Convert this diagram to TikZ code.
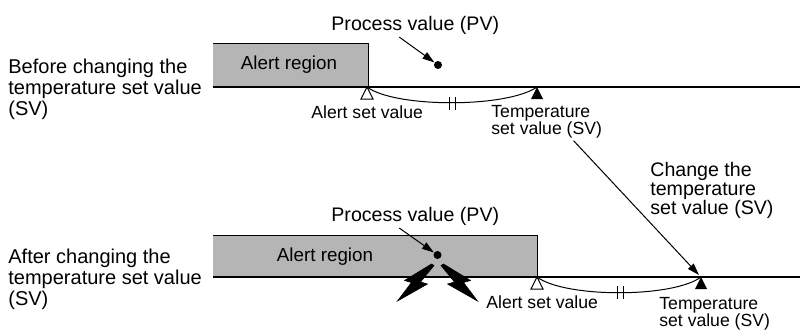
\documentclass[tikz,border=0pt]{standalone}
\usepackage{fontspec}
\setmainfont{Liberation Sans}
\usetikzlibrary{arrows.meta}

\tikzset{
  side/.style={font=\fontsize{10}{9.3}\selectfont, inner sep=0pt, align=left, anchor=north west},
  lbl/.style={font=\fontsize{8.8}{8.6}\selectfont, inner sep=0pt, align=left, anchor=north west},
  biglbl/.style={lbl, font=\fontsize{9.8}{9.5}\selectfont},
  region/.style={fill=gray!58},
  pvdot/.style={circle, fill, inner sep=0pt, minimum size=4pt},
  ptr/.style={-{Triangle[length=6pt,width=3.8pt]}, line width=0.5pt},
  bolt/.style={fill=black, draw=black, line width=0.3pt, line join=miter}
}

\begin{document}
\begin{tikzpicture}[x=0.5pt, y=-0.5pt]
    \useasboundingbox (0,0) rectangle (800,332);

    % Before changing the SV
    \fill[region] (213,43) rectangle (368,87);
    \draw[line width=0.4pt] (213,43) -- (368,43) -- (368,87);
    \node[font=\fontsize{9.4}{10}\selectfont] (ar1) at (289,65) {Alert region};
    \draw[line width=0.75pt] (213,87) -- (800,87);
    \coordinate (asv1) at (367,87);
    \coordinate (tsv1) at (537,87);
    \draw[line width=0.5pt] (asv1) .. controls (395,108) and (507,108) .. (tsv1);
    \draw[line width=0.5pt] (449,97) -- (449,110) (455,97) -- (455,110);
    \draw[fill=white, line width=0.5pt] (asv1) -- ++(-6,12) -- ++(12,0) -- cycle;
    \fill (tsv1) -- ++(-6,12) -- ++(12,0) -- cycle;
    \node[pvdot] (pv1) at (438,65) {};

    % Labels for before
    \node[side] (bef) at (8,59) {Before changing the\\temperature set value\\(SV)};
    \node[biglbl] (pvl1) at (331,16) {Process value (PV)};
    \node[lbl] (asl1) at (311,105) {Alert set value};
    \node[lbl] (tsl1) at (491,105) {Temperature\\set value (SV)};
    \draw[ptr] ([xshift=-8pt,yshift=-1pt]pvl1.south) -- (pv1);

    % After changing the SV
    \fill[region] (213,235) rectangle (537,277);
    \draw[line width=0.4pt] (213,235) -- (537,235) -- (537,277);
    \node[font=\fontsize{9.4}{10}\selectfont] (ar2) at (325,257) {Alert region};
    \draw[line width=0.75pt] (213,277) -- (800,277);
    \coordinate (asv2) at (537,277);
    \coordinate (tsv2) at (701,277);
    \draw[line width=0.5pt] (asv2) .. controls (565,298) and (673,298) .. (tsv2);
    \draw[line width=0.5pt] (617,286) -- (617,299) (623,286) -- (623,299);
    \draw[fill=white, line width=0.5pt] (asv2) -- ++(-6,12) -- ++(12,0) -- cycle;
    \fill (tsv2) -- ++(-6,12) -- ++(12,0) -- cycle;
    \node[pvdot] (pv2) at (437.5,255) {};

    % Lightning bolts under the PV
    \foreach \s in {1,-1}
      \draw[bolt, shift={(pv2)}, xscale=\s]
        (-6,9) -- (-3.5,10.5) -- (-17,27) -- (-10,29) -- (-40,46)
        -- (-26,27.5) -- (-33,25.5) -- cycle;

    % Labels for after
    \node[side] (aft) at (8,249) {After changing the\\temperature set value\\(SV)};
    \node[biglbl] (pvl2) at (331,207) {Process value (PV)};
    \node[lbl] (asl2) at (486,295) {Alert set value};
    \node[lbl] (tsl2) at (659,297) {Temperature\\set value (SV)};
    \draw[ptr] ([xshift=-8pt,yshift=-1pt]pvl2.south) -- (pv2);

    % Change of the SV
    \node[biglbl] (chg) at (650,162) {Change the\\temperature\\set value (SV)};
    \draw[ptr] ([xshift=13.5pt,yshift=-1pt]tsl1.south) -- ([shift={(-1pt,1pt)}]tsv2);
\end{tikzpicture}
\end{document}
